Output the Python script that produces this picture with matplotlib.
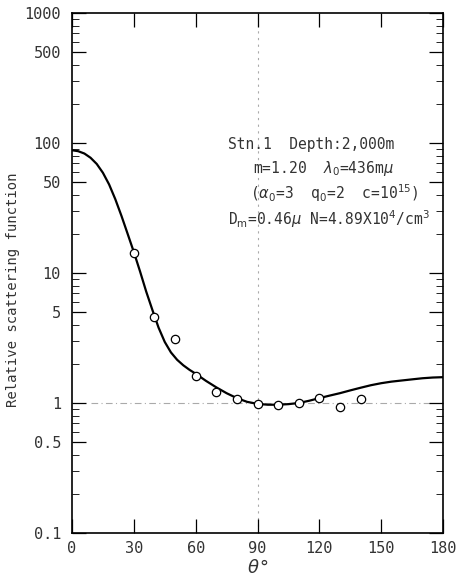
import numpy as np
import matplotlib
matplotlib.use("Agg")
import matplotlib.pyplot as plt
from matplotlib.ticker import FixedLocator, NullFormatter, LogLocator

# Data
curve_theta = [0, 3, 6, 9, 12, 15, 18, 21, 24, 27, 30, 33, 36, 39, 42, 45, 48, 51, 54,
               57, 60, 65, 70, 75, 80, 85, 90, 95, 100, 105, 110, 115, 120, 125, 130,
               135, 140, 145, 150, 155, 160, 165, 170, 175, 180]
curve_value = [88, 86.5, 83, 77, 69, 59, 48, 37, 27.5, 20, 14.5, 10.3, 7.2, 5.2, 3.8,
               2.95, 2.45, 2.15, 1.95, 1.8, 1.68, 1.48, 1.32, 1.19, 1.09, 1.02, 0.985,
               0.97, 0.97, 0.98, 1.0, 1.04, 1.09, 1.14, 1.19, 1.25, 1.31, 1.37, 1.42,
               1.46, 1.49, 1.52, 1.55, 1.57, 1.58]
obs_theta = [30, 40, 50, 60, 70, 80, 90, 100, 110, 120, 130, 140]
obs_value = [14.3, 4.6, 3.1, 1.6, 1.22, 1.07, 0.99, 0.97, 1.0, 1.09, 0.93, 1.07]
x_ticks = [0, 30, 60, 90, 120, 150, 180]
y_ticks = [0.1, 0.5, 1, 5, 10, 50, 100, 500, 1000]
y_tick_labels = ["0.1", "0.5", "1", "5", "10", "50", "100", "500", "1000"]

FONT = "DejaVu Sans Mono"
plt.rcParams["font.family"] = [FONT, "DejaVu Sans"]

fig = plt.figure(figsize=(4.63, 5.81), dpi=100)
ax = fig.add_axes([72/463, 1-533/581, (443-72)/463, (533-13)/581])

ax.set_yscale("log")
ax.set_xlim(0, 180)
ax.set_ylim(0.1, 1000)

# light guide lines
ax.axhline(1, color="#aaaaaa", lw=0.8, ls=(0, (6, 3, 1, 3)), xmin=0.05, xmax=0.97, zorder=1)
ax.axvline(90, color="#aaaaaa", lw=0.8, ls=(0, (2, 4)), zorder=1)

ax.plot(curve_theta, curve_value, color="black", lw=1.6, zorder=2)
ax.plot(obs_theta, obs_value, ls="none", marker="o", ms=6, mfc="white",
        mec="black", mew=0.9, zorder=3)

ax.xaxis.set_major_locator(FixedLocator(x_ticks))
ax.set_xticklabels([str(v) for v in x_ticks])
ax.yaxis.set_major_locator(FixedLocator(y_ticks))
ax.set_yticklabels(y_tick_labels)
ax.yaxis.set_minor_locator(LogLocator(base=10, subs=np.arange(2, 10)))
ax.yaxis.set_minor_formatter(NullFormatter())

ax.tick_params(axis="both", which="major", direction="in", top=True, right=True,
               length=10, width=0.9, labelsize=11, colors="black")
ax.tick_params(axis="y", which="minor", direction="in", right=True, left=True,
               length=5, width=0.6)
ax.tick_params(axis="x", which="major", pad=6)
ax.tick_params(axis="y", which="major", pad=8)
for lab in ax.get_xticklabels() + ax.get_yticklabels():
    lab.set_color("#333333")

for s in ax.spines.values():
    s.set_linewidth(1.2)

ax.set_ylabel("Relative scattering function", fontsize=10, color="#333333")
ax.yaxis.set_label_coords(-0.14, 0.467)
ax.set_xlabel(r"$\theta$°", fontsize=13, color="#333333", labelpad=2)

tx = dict(fontsize=10.5, color="#333333", transform=fig.transFigure, va="center", ha="left")
fig.text(228/463, 1-145/581, "Stn.1  Depth:2,000m", **tx)
fig.text(253/463, 1-169/581, r"m=1.20  $\lambda_0$=436m$\mu$", **tx)
fig.text(250/463, 1-193/581, r"($\alpha_0$=3  q$_0$=2  c=10$^{15}$)", **tx)
fig.text(228/463, 1-219/581, r"D$_\mathrm{m}$=0.46$\mu$ N=4.89X10$^4$/cm$^3$", **tx)

fig.savefig("out.png", dpi=100)
